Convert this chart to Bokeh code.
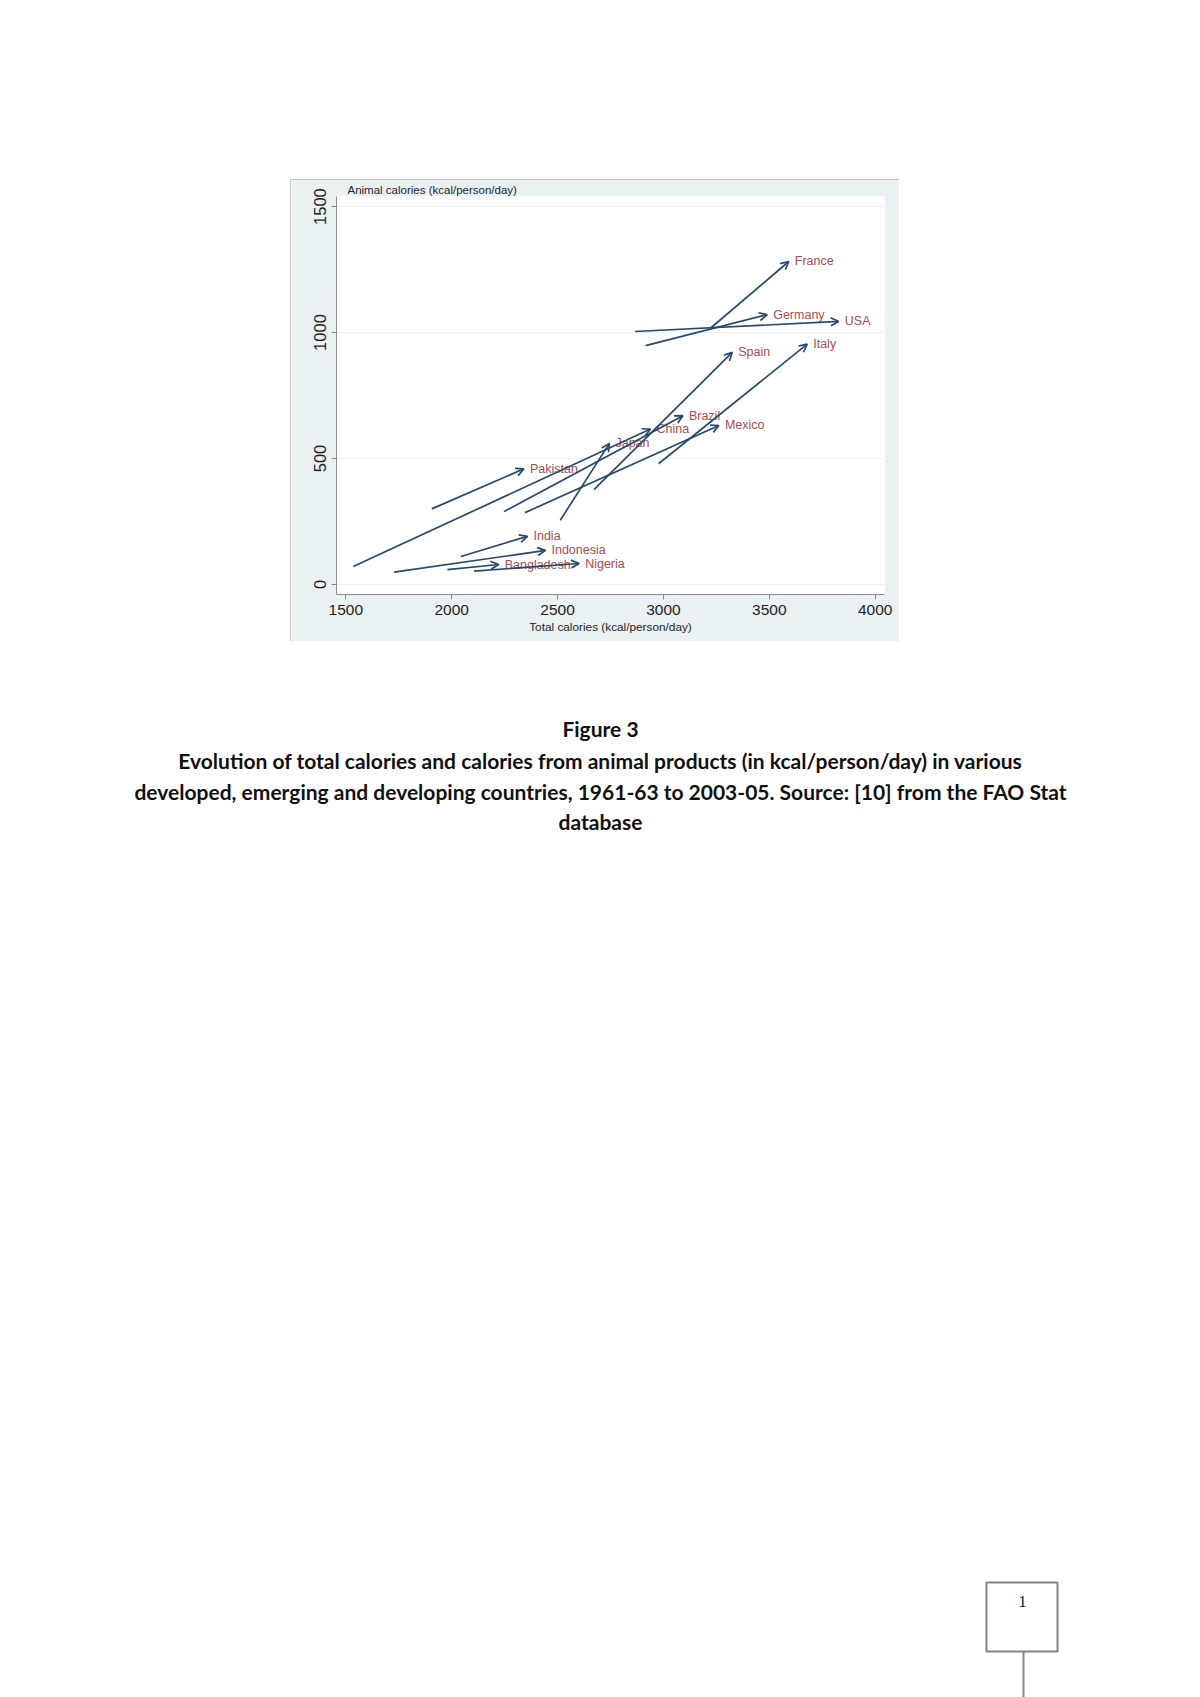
from bokeh.plotting import figure
from bokeh.models import (ColumnDataSource, Arrow, OpenHead, Range1d, FixedTicker,
                          Spacer, Title)
from bokeh.layouts import column, row
from bokeh.core.properties import value
from bokeh.embed import file_html
from bokeh.resources import INLINE

# ---------------- data ----------------
countries = ["France", "Germany", "USA", "Spain", "Italy", "Brazil", "China",
             "Mexico", "Japan", "Pakistan", "India", "Indonesia", "Bangladesh", "Nigeria"]
total_1961 = [3222, 2916, 2866, 2672, 2977, 2247, 1535, 2346, 2513, 1906, 2043, 1728, 1980, 2106]
animal_1961 = [1017, 948, 1004, 376, 479, 289, 71, 285, 255, 300, 111, 49, 59, 53]
total_2003 = [3592, 3490, 3828, 3325, 3679, 3092, 2939, 3262, 2745, 2341, 2358, 2443, 2222, 2602]
animal_2003 = [1282, 1071, 1044, 921, 954, 670, 617, 631, 560, 459, 191, 135, 79, 83]

x_ticks = [1500, 2000, 2500, 3000, 3500, 4000]
y_ticks = [0, 500, 1000, 1500]
x_title = "Total calories (kcal/person/day)"
y_title = "Animal calories (kcal/person/day)"

caption_head = "Figure 3"
caption_lines = [
    "Evolution of total calories and calories from animal products (in kcal/person/day) in various",
    "developed, emerging and developing countries, 1961-63 to 2003-05. Source: [10] from the FAO Stat",
    "database",
]
page_number = "1"

# ---------------- styles ----------------
NAVY = "#26496c"
LABEL_RED = "#ab4c53"
REGION = "#e9f1f3"
TXT = "#1f1f1f"
SANS = "Liberation Sans"

src = ColumnDataSource(dict(country=countries, x0=total_1961, y0=animal_1961,
                            x1=total_2003, y1=animal_2003))

p = figure(width=609, height=462, x_range=Range1d(1456, 4044), y_range=Range1d(-40, 1540),
           output_backend="svg", toolbar_location=None,
           min_border_left=46, min_border_right=15, min_border_top=17, min_border_bottom=47)
p.border_fill_color = REGION
p.background_fill_color = "white"
p.outline_line_color = None
p.styles = {"outline": "1px solid #b9b9b9", "outline-offset": "-1px"}

p.add_layout(Title(text=y_title, align="left", offset=11, standoff=2,
                   text_font=SANS, text_font_size="11.5px", text_font_style="normal",
                   text_color=TXT), "above")

arrows = Arrow(end=OpenHead(size=8, line_color=NAVY, line_width=1.7),
               x_start="x0", y_start="y0", x_end="x1", y_end="y1", source=src,
               line_color=NAVY, line_width=1.7)
p.add_layout(arrows)

p.text(x="x1", y="y1", text="country", source=src, x_offset=6,
       text_font=value(SANS), text_font_size="12.5px", text_color=LABEL_RED,
       text_align="left", text_baseline="middle")

# axes
p.xaxis.ticker = FixedTicker(ticks=x_ticks)
p.yaxis.ticker = FixedTicker(ticks=y_ticks)
for ax in (p.xaxis, p.yaxis):
    ax.axis_line_color = "#8c8c8c"
    ax.major_tick_line_color = "#8c8c8c"
    ax.major_tick_out = 5
    ax.major_tick_in = 0
    ax.minor_tick_line_color = None
    ax.major_label_text_font = SANS
    ax.major_label_text_color = TXT
    ax.major_label_standoff = 5
p.xaxis.major_label_text_font_size = "15.5px"
p.yaxis.major_label_text_font_size = "16.5px"
p.yaxis.major_label_orientation = "vertical"
p.xaxis.axis_label = x_title
p.xaxis.axis_label_text_font = SANS
p.xaxis.axis_label_text_font_size = "11.8px"
p.xaxis.axis_label_text_font_style = "normal"
p.xaxis.axis_label_text_color = TXT
p.xaxis.axis_label_standoff = 2

p.xgrid.visible = False
p.ygrid.ticker = FixedTicker(ticks=y_ticks)
p.ygrid.grid_line_color = "#edf1f2"
p.ygrid.grid_line_width = 1

# ---------------- caption / page part ----------------
cap = figure(width=1200, height=1056, x_range=Range1d(0, 1200), y_range=Range1d(1697, 641),
             output_backend="svg", toolbar_location=None, min_border=0)
cap.axis.visible = False
cap.grid.visible = False
cap.outline_line_color = None
cap.border_fill_color = "white"
cap.background_fill_color = "white"

cap.text(x=[600], y=[728], text=[caption_head], text_font=value("Lato"), text_font_style="bold",
         text_font_size="21px", text_align="center", text_baseline="middle", text_color="#111111")
cap.text(x=[600, 600, 600], y=[760, 791, 821], text=caption_lines, text_font=value("Lato"),
         text_font_style="bold", text_font_size="21px", text_align="center",
         text_baseline="middle", text_color="#111111")

cap.quad(left=[986], right=[1057], top=[1582], bottom=[1651], fill_color=None,
         line_color="#848484", line_width=2)
cap.segment(x0=[1023], y0=[1651], x1=[1023], y1=[1697], line_color="#848484", line_width=2)
cap.text(x=[1022], y=[1601], text=[page_number], text_font=value("Liberation Serif"),
         text_font_size="16px", text_align="center", text_baseline="middle", text_color="#111111")

layout = column(Spacer(width=1200, height=179),
                row(Spacer(width=290, height=462), p),
                cap)

open("out.html", "w").write(file_html(layout, INLINE))
